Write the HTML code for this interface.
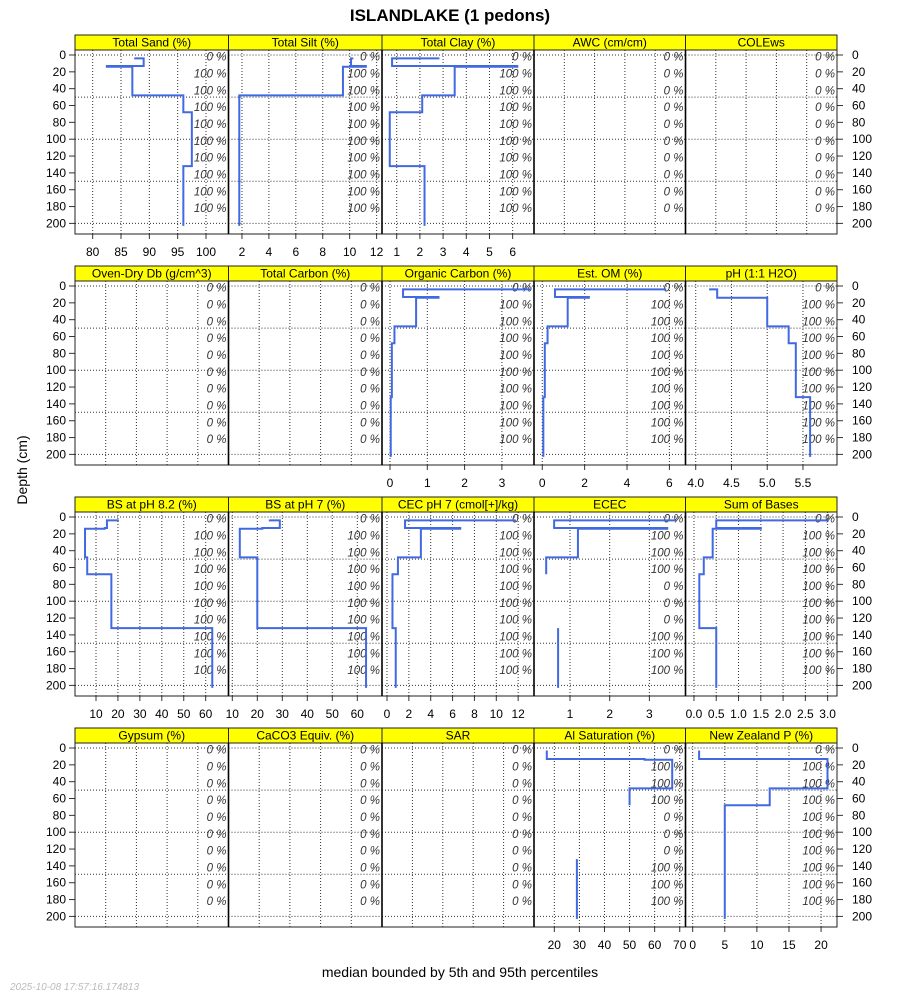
<!DOCTYPE html>
<html><head><meta charset="utf-8"><title>ISLANDLAKE</title>
<style>
html,body{margin:0;padding:0;background:#fff;}
svg{display:block;font-family:"Liberation Sans",sans-serif;}
</style></head>
<body>
<svg id="chart" width="900" height="1000" viewBox="0 0 900 1000" xmlns="http://www.w3.org/2000/svg">
<text x="450" y="21" text-anchor="middle" font-size="17" font-weight="bold">ISLANDLAKE (1 pedons)</text>
<text transform="translate(27,470) rotate(-90)" text-anchor="middle" font-size="14">Depth (cm)</text>
<text x="460" y="977" text-anchor="middle" font-size="14">median bounded by 5th and 95th percentiles</text>
<text x="10" y="990" font-size="10" font-style="italic" fill="#bbb">2025-10-08 17:57:16.174813</text>
<g id="panels"></g>
</svg>
<script>
// Horizon boundaries (cm)
const hzTop = [3, 4, 13, 14, 48, 68, 132];
const hzBot = [4, 13, 14, 48, 68, 132, 203];
// Median values per horizon
const sandVals = [87.5, 89, 82.5, 87, 96, 97.5, 96];
const siltVals = [10.2, 10.1, 11.2, 9.5, 1.8, 1.8, 1.8];
const clayVals = [2.8, 0.8, 6.2, 3.5, 2.1, 0.7, 2.2];
const ocVals = [3.75, 0.35, 1.3, 0.7, 0.12, 0.05, 0.02];
const omVals = [5.8, 0.6, 2.2, 1.2, 0.25, 0.12, 0.05];
const phVals = [4.2, 4.3, 4.3, 5.0, 5.3, 5.4, 5.6];
const bs82Vals = [20, 15, 14, 5, 6, 17, 63];
const bs7Vals = [25, 29, 22, 13, 20, 20, 63.5];
const cecVals = [11.7, 1.65, 6.7, 3.1, 1.0, 0.5, 0.8];
const ececVals = [3.65, 0.6, 3.45, 1.2, 0.4, null, 0.7];
const sobVals = [3.0, 0.5, 1.5, 0.42, 0.22, 0.12, 0.5];
const alVals = [17, 17, 56, 67, 50, null, 29];
const nzpVals = [1, 1, 21, 21, 12, 5, 5];
// Panel names
const panelNames = ["Total Sand (%)","Total Silt (%)","Total Clay (%)","AWC (cm/cm)","COLEws",
 "Oven-Dry Db (g/cm^3)","Total Carbon (%)","Organic Carbon (%)","Est. OM (%)","pH (1:1 H2O)",
 "BS at pH 8.2 (%)","BS at pH 7 (%)","CEC pH 7 (cmol[+]/kg)","ECEC","Sum of Bases",
 "Gypsum (%)","CaCO3 Equiv. (%)","SAR","Al Saturation (%)","New Zealand P (%)"];
const panelSeries = [sandVals, siltVals, clayVals, null, null,
 null, null, ocVals, omVals, phVals,
 bs82Vals, bs7Vals, cecVals, ececVals, sobVals,
 null, null, null, alVals, nzpVals];
// Axis domains (data units at panel edges)
const panelDomains = [[76.88,103.97],[1.0,12.40],[0.366,6.92],[0,1],[0,1],
 [0,1],[0,1],[-0.214,3.86],[-0.39,6.76],[3.857,5.976],
 [0.43,70.4],[8.48,69.88],[-0.457,13.45],[0.093,3.91],[-0.19,3.21],
 [0,1],[0,1],[0,1],[11.9,72.3],[-1.12,22.48]];
// Tick values
const panelTicks = [[80,85,90,95,100],[2,4,6,8,10,12],[1,2,3,4,5,6],null,null,
 null,null,[0,1,2,3],[0,2,4,6],[4.0,4.5,5.0,5.5],
 [10,20,30,40,50,60],[10,20,30,40,50,60],[0,2,4,6,8,10,12],[1,2,3],[0,0.5,1,1.5,2,2.5,3],
 null,null,null,[20,30,40,50,60,70],[0,5,10,15,20]];
const panelTickDecimals = [0,0,0,0,0, 0,0,0,0,1, 0,0,0,0,1, 0,0,0,0,0];
// Percent-of-profiles labels per 20cm slice
const pctFirst0 = [0,100,100,100,100,100,100,100,100,100];
const pctAll0 = [0,0,0,0,0,0,0,0,0,0];
const pctEcec = [0,100,100,100,0,0,0,100,100,100];
const panelPct = [pctFirst0,pctFirst0,pctFirst0,pctAll0,pctAll0,
 pctAll0,pctAll0,pctFirst0,pctFirst0,pctFirst0,
 pctFirst0,pctFirst0,pctFirst0,pctEcec,pctFirst0,
 pctAll0,pctAll0,pctAll0,pctEcec,pctFirst0];
const depthTicks = [0,20,40,60,80,100,120,140,160,180,200];
const depthGrid = [0,50,100,150,200];

const NS = "http://www.w3.org/2000/svg";
const colX = [75,228.5,382,534,685.5,837];
const rowStep = 231;
function el(tag, attrs, parent){
  const e = document.createElementNS(NS, tag);
  for (const k in attrs) e.setAttribute(k, attrs[k]);
  parent.appendChild(e);
  return e;
}
function yScale(row, d){ return 55 + row*rowStep + d*0.842; }
const root = document.getElementById('panels');

// depth axes per row
for (let r=0;r<4;r++){
  const ax = el('g',{},root);
  
  
  depthTicks.forEach(d=>{
    const y = yScale(r,d);
    el('line',{x1:69,x2:75,y1:y,y2:y,stroke:'#333','stroke-width':1},ax);
    el('line',{x1:837,x2:843,y1:y,y2:y,stroke:'#333','stroke-width':1},ax);
    const tl = el('text',{x:66,y:y+4,'text-anchor':'end','font-size':12},ax);
    tl.textContent = d;
    const tr = el('text',{x:852,y:y+4,'text-anchor':'start','font-size':12},ax);
    tr.textContent = d;
  });
}

panelNames.forEach((name,i)=>{
  const r = Math.floor(i/5), c = i%5;
  const x0 = colX[c], x1 = colX[c+1], W = x1-x0;
  const top = 50 + r*rowStep, bot = 234 + r*rowStep;
  const g = el('g',{},root);
  
  
  // strip
  const strip = el('rect',{x:x0,y:top-15,width:W,height:15,fill:'#ffff00',stroke:'#222','stroke-width':1},g);
  
  
  const st = el('text',{x:(x0+x1)/2,y:top-3.5,'text-anchor':'middle','font-size':12},g);
  
  
  st.textContent = name;
  const dom = panelDomains[i];
  const xs = v => x0 + (v-dom[0])/(dom[1]-dom[0])*W;
  // grid
  const ticks = panelTicks[i];
  const gridX = ticks ? ticks : [0.2,0.4,0.6,0.8];
  gridX.forEach(v=>{
    const x = xs(v);
    if (x>x0+1 && x<x1-0.5) el('line',{x1:x,x2:x,y1:top,y2:bot,stroke:'#333','stroke-width':1,'stroke-dasharray':'1,2'},g);
  });
  depthGrid.forEach(d=>{
    const y = yScale(r,d);
    el('line',{x1:x0,x2:x1,y1:y,y2:y,stroke:'#333','stroke-width':1,'stroke-dasharray':'1,2'},g);
  });
  // pct labels
  panelPct[i].forEach((p,k)=>{
    const t = el('text',{x:x1-2,y:yScale(r,k*20+2)+4,'text-anchor':'end','font-size':11.5,'font-style':'italic',fill:'#333'},g);
    
    
    t.textContent = p+' %';
  });
  // series
  const vals = panelSeries[i];
  if (vals){
    let dstr = '', prev = null;
    vals.forEach((v,k)=>{
      if (v===null){ prev=null; return; }
      const yt = yScale(r,hzTop[k]), yb = yScale(r,hzBot[k]), x = xs(v);
      if (prev===null) dstr += 'M'+x+' '+yt;
      else dstr += 'L'+x+' '+yt;
      dstr += 'L'+x+' '+yb;
      prev = v;
    });
    const p = el('path',{d:dstr,fill:'none',stroke:'#4169e1','stroke-width':2,'stroke-linejoin':'miter'},g);
    
    
    // x-axis
    const xa = el('g',{},g);
    
    
    ticks.forEach(v=>{
      const x = xs(v);
      el('line',{x1:x,x2:x,y1:bot,y2:bot+5,stroke:'#333','stroke-width':1},xa);
      const t = el('text',{x:x,y:bot+22,'text-anchor':'middle','font-size':12},xa);
      t.textContent = v.toFixed(panelTickDecimals[i]);
    });
  }
  // border
  el('rect',{x:x0,y:top,width:W,height:bot-top,fill:'none',stroke:'#222','stroke-width':1},g);
  if (c>0) el('line',{x1:x0,x2:x0,y1:top,y2:bot,stroke:'#000','stroke-width':1.6},g);
});
</script>
</body></html>
